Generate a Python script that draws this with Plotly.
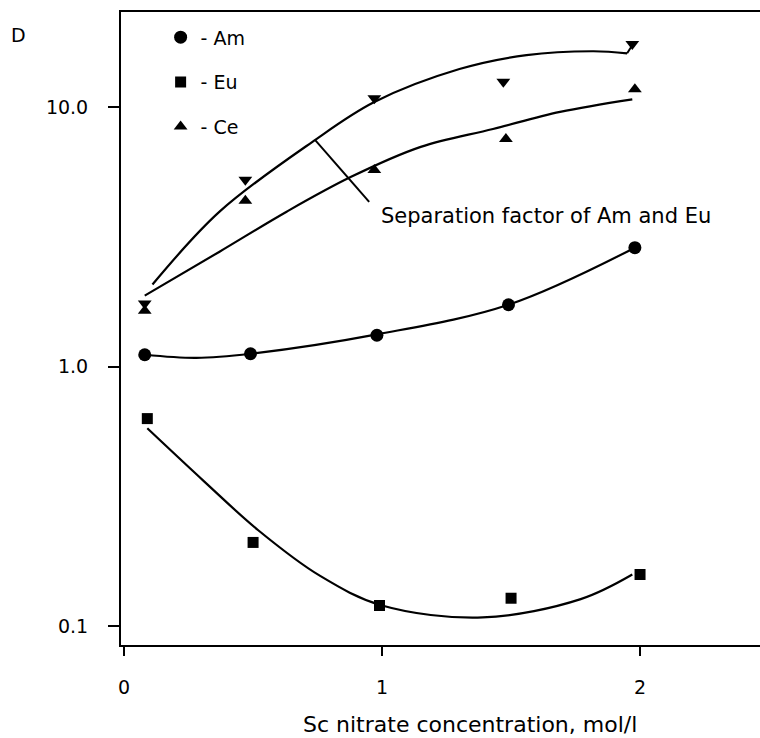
import plotly.graph_objects as go

x_am = [0.08, 0.49, 0.98, 1.49, 1.98]
d_am = [1.11, 1.12, 1.32, 1.73, 2.87]
x_eu = [0.09, 0.50, 0.99, 1.50, 2.00]
d_eu = [0.63, 0.21, 0.12, 0.128, 0.158]
x_ce = [0.08, 0.47, 0.97, 1.48, 1.98]
d_ce = [1.64, 4.35, 5.72, 7.53, 11.7]
x_sf = [0.08, 0.47, 0.97, 1.47, 1.97]
d_sf = [1.75, 5.24, 10.8, 12.5, 17.5]

# ---- hand-drawn fit curves ----
cx_am = [0.08, 0.28, 0.49, 0.98, 1.49, 1.98]
cy_am = [1.11, 1.08, 1.12, 1.33, 1.73, 2.87]
cx_eu = [0.09, 0.31, 0.52, 0.76, 1.00, 1.39, 1.77, 1.97]
cy_eu = [0.578, 0.361, 0.234, 0.156, 0.120, 0.108, 0.127, 0.158]
cx_sf = [0.11, 0.37, 0.73, 0.97, 1.30, 1.56, 1.82, 1.95]
cy_sf = [2.07, 3.95, 7.34, 10.45, 14.0, 15.85, 16.4, 16.1]
hook_x = [1.95, 1.97]
hook_y = [16.1, 17.3]
cx_ce = [0.08, 0.37, 0.63, 0.88, 1.15, 1.43, 1.69, 1.97]
cy_ce = [1.875, 2.77, 3.95, 5.38, 7.02, 8.23, 9.57, 10.7]

# leader line of the annotation
lead_x = [0.74, 0.95]
lead_y = [7.47, 4.31]

x_ticks = [0, 1, 2]
x_ticktext = ["0", "1", "2"]
y_ticks = [0.1, 1, 10]
y_ticktext = ["0.1", "1.0", "10.0"]

FONT = "DejaVu Sans"
BLACK = "black"

fig = go.Figure()

for cx, cy in [(cx_am, cy_am), (cx_eu, cy_eu), (cx_sf, cy_sf), (cx_ce, cy_ce)]:
    fig.add_trace(go.Scatter(x=cx, y=cy, mode="lines", showlegend=False,
                             line=dict(color=BLACK, width=2.2, shape="spline", smoothing=1.0),
                             hoverinfo="skip"))
for cx, cy in [(hook_x, hook_y), (lead_x, lead_y)]:
    fig.add_trace(go.Scatter(x=cx, y=cy, mode="lines", showlegend=False,
                             line=dict(color=BLACK, width=2), hoverinfo="skip"))

fig.add_trace(go.Scatter(x=x_am, y=d_am, mode="markers", name="- Am", legendgroup="am",
                         marker=dict(symbol="circle", size=13, color=BLACK)))
fig.add_trace(go.Scatter(x=x_eu, y=d_eu, mode="markers", name="- Eu", legendgroup="eu",
                         marker=dict(symbol="square", size=11, color=BLACK)))
fig.add_trace(go.Scatter(x=x_ce, y=d_ce, mode="markers", name="- Ce", legendgroup="ce",
                         marker=dict(symbol="triangle-up", size=12, color=BLACK)))
fig.add_trace(go.Scatter(x=x_sf, y=d_sf, mode="markers", showlegend=False,
                         marker=dict(symbol="triangle-down", size=12, color=BLACK)))

fig.update_layout(
    width=760, height=738,
    margin=dict(l=121, r=0, t=12, b=93),
    paper_bgcolor="white", plot_bgcolor="white",
    font=dict(family=FONT, color=BLACK, size=19),
    showlegend=True,
    legend=dict(x=0.062, y=0.99, xanchor="left", yanchor="top",
                traceorder="grouped", tracegroupgap=17,
                font=dict(family=FONT, size=19, color=BLACK),
                bgcolor="rgba(0,0,0,0)", itemwidth=30),
    xaxis=dict(range=[-0.012, 2.465], showgrid=False, zeroline=False,
               showline=True, linecolor=BLACK, linewidth=2, mirror=True,
               ticks="outside", ticklen=9, tickwidth=1.5, tickcolor=BLACK,
               tickvals=x_ticks, ticktext=x_ticktext, ticklabelstandoff=15,
               tickfont=dict(family=FONT, size=19, color=BLACK)),
    yaxis=dict(type="log", range=[-1.073, 1.366], showgrid=False, zeroline=False,
               showline=True, linecolor=BLACK, linewidth=2, mirror=False,
               ticks="outside", ticklen=11, tickwidth=1.5, tickcolor=BLACK,
               tickvals=y_ticks, ticktext=y_ticktext, ticklabelstandoff=16,
               tickfont=dict(family=FONT, size=19, color=BLACK)),
    annotations=[
        dict(text="D", xref="paper", yref="paper", x=-0.16, y=0.964,
             xanchor="center", yanchor="middle", showarrow=False,
             font=dict(family=FONT, size=19, color=BLACK)),
        dict(text="Separation factor of Am and Eu", xref="paper", yref="paper",
             x=0.403, y=0.678, xanchor="left", yanchor="middle", showarrow=False,
             font=dict(family=FONT, size=21, color=BLACK)),
        dict(text="Sc nitrate concentration, mol/l", xref="paper", yref="paper",
             x=0.546, y=-0.125, xanchor="center", yanchor="middle", showarrow=False,
             font=dict(family=FONT, size=22, color=BLACK)),
    ],
)

fig.write_html("out.html", config={"displayModeBar": False},
               post_script="document.body.style.margin='0';document.body.style.overflow='hidden';")
